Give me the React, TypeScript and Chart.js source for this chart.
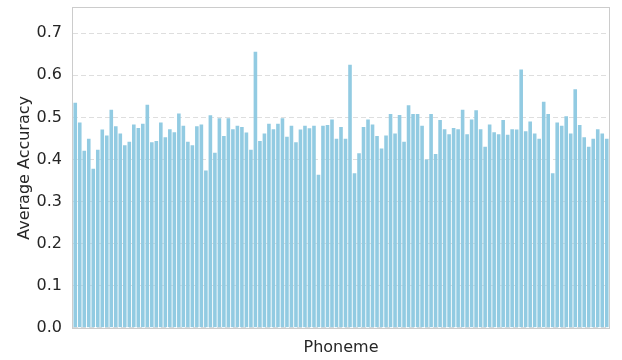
import React, { useEffect, useRef } from "react";
import { Chart, registerables } from "chart.js";

Chart.register(...registerables);

const accuracy: number[] = [
  0.535, 0.488, 0.421, 0.449, 0.378, 0.423, 0.471, 0.457, 0.518, 0.479,
  0.462, 0.434, 0.442, 0.483, 0.475, 0.485, 0.530, 0.441, 0.444, 0.488,
  0.453, 0.472, 0.465, 0.509, 0.480, 0.442, 0.434, 0.479, 0.483, 0.374,
  0.505, 0.416, 0.498, 0.456, 0.498, 0.472, 0.480, 0.477, 0.464, 0.423,
  0.656, 0.444, 0.462, 0.485, 0.472, 0.485, 0.498, 0.454, 0.480, 0.441,
  0.471, 0.480, 0.474, 0.480, 0.364, 0.480, 0.482, 0.495, 0.449, 0.477,
  0.449, 0.625, 0.367, 0.415, 0.477, 0.495, 0.483, 0.456, 0.426, 0.457,
  0.508, 0.462, 0.506, 0.442, 0.529, 0.508, 0.508, 0.480, 0.400, 0.508,
  0.413, 0.494, 0.472, 0.460, 0.475, 0.472, 0.518, 0.460, 0.495, 0.517,
  0.472, 0.430, 0.483, 0.465, 0.460, 0.494, 0.459, 0.472, 0.471, 0.614,
  0.467, 0.490, 0.462, 0.449, 0.537, 0.508, 0.367, 0.488, 0.480, 0.503,
  0.462, 0.567, 0.482, 0.453, 0.430, 0.449, 0.472, 0.462, 0.449,
];

const phonemes: string[] = accuracy.map((_, i) => `phoneme ${i + 1}`);

const yTicks: number[] = [0, 0.1, 0.2, 0.3, 0.4, 0.5, 0.6, 0.7];

const frame = {
  id: "frame",
  afterDraw(chart: any) {
    const { ctx, chartArea } = chart;
    ctx.save();
    ctx.strokeStyle = "#cccccc";
    ctx.lineWidth = 1;
    ctx.strokeRect(
      Math.round(chartArea.left) - 0.5,
      Math.round(chartArea.top) - 0.5,
      Math.round(chartArea.right - chartArea.left) + 1,
      Math.round(chartArea.bottom - chartArea.top) + 1
    );
    ctx.restore();
  },
};

export default function App() {
  const ref = useRef<HTMLCanvasElement | null>(null);
  useEffect(() => {
    if (!ref.current) return;
    const chart = new Chart(ref.current, {
      type: "bar",
      data: {
        labels: phonemes,
        datasets: [
          {
            label: "Average Accuracy",
            data: accuracy,
            backgroundColor: "#92cbe2",
            borderWidth: 0,
            barPercentage: 0.8,
            categoryPercentage: 1.0,
          },
        ],
      },
      options: {
        animation: false,
        responsive: false,
        maintainAspectRatio: false,
        layout: { padding: { left: 15, right: 13, top: 8, bottom: 3 } },
        plugins: { legend: { display: false }, tooltip: { enabled: false } },
        font: { family: "DejaVu Sans" },
        scales: {
          x: {
            grid: { display: false },
            border: { display: false },
            ticks: { display: false },
            title: {
              display: true,
              text: "Phoneme",
              color: "#262626",
              font: { family: "DejaVu Sans", size: 16 },
              padding: { top: 2, bottom: 0 },
            },
          },
          y: {
            min: 0,
            max: 0.76,
            afterBuildTicks: (scale: any) => {
              scale.ticks = yTicks.map((v) => ({ value: v }));
            },
            afterFit: (scale: any) => {
              scale.width = 58;
              scale.paddingTop = 0;
            },
            grid: {
              color: "#dedede",
              lineWidth: 1,
              tickLength: 0,
              drawTicks: false,
            },
            border: { display: false, dash: [5, 3] },
            ticks: {
              color: "#262626",
              font: { family: "DejaVu Sans", size: 16 },
              padding: 11,
              callback: (v: any) => Number(v).toFixed(1),
            },
            title: {
              display: true,
              text: "Average Accuracy",
              color: "#262626",
              font: { family: "DejaVu Sans", size: 16 },
              padding: { top: 0, bottom: 0 },
            },
          },
        },
      },
      plugins: [frame],
    });
    return () => chart.destroy();
  }, []);
  return (
    <div style={{ position: "fixed", left: 0, top: 0, width: 622, height: 360, background: "#fff" }}>
      <canvas ref={ref} width={622} height={360} style={{ width: 622, height: 360 }} />
    </div>
  );
}
